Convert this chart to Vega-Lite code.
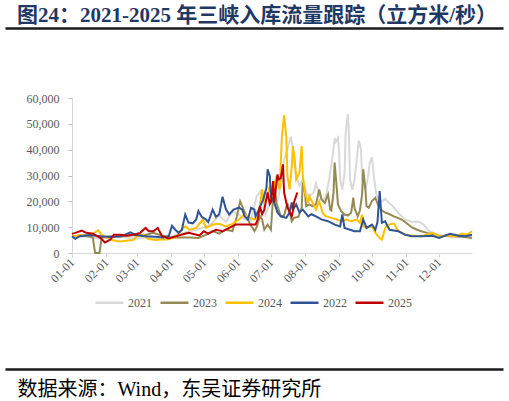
{
  "$schema": "https://vega.github.io/schema/vega-lite/v6.json",
  "padding": {"left": 5, "right": 5, "top": 5, "bottom": 0},
  "background": "white",
  "title": {
    "text": "图24：2021-2025 年三峡入库流量跟踪（立方米/秒）",
    "anchor": "start",
    "dx": 12,
    "offset": 2,
    "font": "Liberation Serif, Noto Sans CJK SC",
    "fontSize": 21,
    "fontWeight": "bold",
    "color": "#1f3864"
  },
  "spacing": 59,
  "resolve": {"legend": {"color": "independent"}},
  "vconcat": [
    {
      "width": 400,
      "height": 5,
      "data": {"values": [{"v": 0}, {"v": 1}]},
      "mark": {"type": "rule", "opacity": 0},
      "encoding": {
        "x": {
          "field": "v",
          "type": "quantitative",
          "scale": {"domain": [0, 1], "range": [-67, 431]},
          "axis": {"orient": "top", "domainColor": "#1a1a1a", "domainWidth": 2.5, "ticks": false, "labels": false, "grid": false, "title": null}
        }
      }
    },
    {
      "width": 400,
      "height": 155,
      "data": {
        "values": [
          {"d": "2021-01-01", "s": "2021", "v": 6000},
          {"d": "2021-01-08", "s": "2021", "v": 6500},
          {"d": "2021-01-17", "s": "2021", "v": 6200},
          {"d": "2021-01-27", "s": "2021", "v": 5500},
          {"d": "2021-02-05", "s": "2021", "v": 6000},
          {"d": "2021-02-14", "s": "2021", "v": 6500},
          {"d": "2021-02-23", "s": "2021", "v": 5800},
          {"d": "2021-03-01", "s": "2021", "v": 5500},
          {"d": "2021-03-09", "s": "2021", "v": 6000},
          {"d": "2021-03-18", "s": "2021", "v": 5500},
          {"d": "2021-03-27", "s": "2021", "v": 6000},
          {"d": "2021-04-02", "s": "2021", "v": 6500},
          {"d": "2021-04-10", "s": "2021", "v": 7500},
          {"d": "2021-04-19", "s": "2021", "v": 8500},
          {"d": "2021-04-28", "s": "2021", "v": 9500},
          {"d": "2021-05-07", "s": "2021", "v": 11000},
          {"d": "2021-05-15", "s": "2021", "v": 14500},
          {"d": "2021-05-21", "s": "2021", "v": 12000},
          {"d": "2021-05-27", "s": "2021", "v": 16000},
          {"d": "2021-06-02", "s": "2021", "v": 15000},
          {"d": "2021-06-07", "s": "2021", "v": 13000},
          {"d": "2021-06-13", "s": "2021", "v": 12500},
          {"d": "2021-06-18", "s": "2021", "v": 22000},
          {"d": "2021-06-22", "s": "2021", "v": 24000},
          {"d": "2021-06-26", "s": "2021", "v": 15000},
          {"d": "2021-06-29", "s": "2021", "v": 18000},
          {"d": "2021-07-03", "s": "2021", "v": 26000},
          {"d": "2021-07-07", "s": "2021", "v": 20000},
          {"d": "2021-07-10", "s": "2021", "v": 26000},
          {"d": "2021-07-13", "s": "2021", "v": 36000},
          {"d": "2021-07-16", "s": "2021", "v": 40000},
          {"d": "2021-07-19", "s": "2021", "v": 45000},
          {"d": "2021-07-21", "s": "2021", "v": 41000},
          {"d": "2021-07-22", "s": "2021", "v": 35000},
          {"d": "2021-07-24", "s": "2021", "v": 30000},
          {"d": "2021-07-27", "s": "2021", "v": 26000},
          {"d": "2021-07-30", "s": "2021", "v": 28500},
          {"d": "2021-08-02", "s": "2021", "v": 23500},
          {"d": "2021-08-05", "s": "2021", "v": 22000},
          {"d": "2021-08-09", "s": "2021", "v": 23500},
          {"d": "2021-08-11", "s": "2021", "v": 27000},
          {"d": "2021-08-14", "s": "2021", "v": 22500},
          {"d": "2021-08-18", "s": "2021", "v": 20500},
          {"d": "2021-08-20", "s": "2021", "v": 22000},
          {"d": "2021-08-23", "s": "2021", "v": 28500},
          {"d": "2021-08-26", "s": "2021", "v": 37000},
          {"d": "2021-08-28", "s": "2021", "v": 44500},
          {"d": "2021-08-29", "s": "2021", "v": 43000},
          {"d": "2021-08-31", "s": "2021", "v": 44500},
          {"d": "2021-09-01", "s": "2021", "v": 40000},
          {"d": "2021-09-02", "s": "2021", "v": 28500},
          {"d": "2021-09-04", "s": "2021", "v": 24500},
          {"d": "2021-09-06", "s": "2021", "v": 31000},
          {"d": "2021-09-07", "s": "2021", "v": 46500},
          {"d": "2021-09-09", "s": "2021", "v": 53800},
          {"d": "2021-09-10", "s": "2021", "v": 46000},
          {"d": "2021-09-11", "s": "2021", "v": 28500},
          {"d": "2021-09-13", "s": "2021", "v": 24500},
          {"d": "2021-09-15", "s": "2021", "v": 28000},
          {"d": "2021-09-17", "s": "2021", "v": 36000},
          {"d": "2021-09-19", "s": "2021", "v": 43500},
          {"d": "2021-09-21", "s": "2021", "v": 40000},
          {"d": "2021-09-22", "s": "2021", "v": 28500},
          {"d": "2021-09-25", "s": "2021", "v": 24500},
          {"d": "2021-09-27", "s": "2021", "v": 28500},
          {"d": "2021-09-29", "s": "2021", "v": 35000},
          {"d": "2021-10-01", "s": "2021", "v": 37000},
          {"d": "2021-10-03", "s": "2021", "v": 28500},
          {"d": "2021-10-05", "s": "2021", "v": 22500},
          {"d": "2021-10-07", "s": "2021", "v": 20500},
          {"d": "2021-10-10", "s": "2021", "v": 20000},
          {"d": "2021-10-13", "s": "2021", "v": 21000},
          {"d": "2021-10-16", "s": "2021", "v": 19500},
          {"d": "2021-10-19", "s": "2021", "v": 18500},
          {"d": "2021-10-22", "s": "2021", "v": 17000},
          {"d": "2021-10-25", "s": "2021", "v": 15500},
          {"d": "2021-10-31", "s": "2021", "v": 13000},
          {"d": "2021-11-06", "s": "2021", "v": 12000},
          {"d": "2021-11-12", "s": "2021", "v": 12200},
          {"d": "2021-11-17", "s": "2021", "v": 11000},
          {"d": "2021-11-22", "s": "2021", "v": 8500},
          {"d": "2021-11-27", "s": "2021", "v": 7500},
          {"d": "2021-12-04", "s": "2021", "v": 6800},
          {"d": "2021-12-13", "s": "2021", "v": 6300},
          {"d": "2021-12-22", "s": "2021", "v": 6500},
          {"d": "2021-12-31", "s": "2021", "v": 6500},

          {"d": "2021-01-01", "s": "2023", "v": 6500},
          {"d": "2021-01-08", "s": "2023", "v": 6800},
          {"d": "2021-01-16", "s": "2023", "v": 6500},
          {"d": "2021-01-20", "s": "2023", "v": 6000},
          {"d": "2021-01-22", "s": "2023", "v": 0},
          {"d": "2021-01-26", "s": "2023", "v": 0},
          {"d": "2021-01-28", "s": "2023", "v": 6000},
          {"d": "2021-02-05", "s": "2023", "v": 6500},
          {"d": "2021-02-14", "s": "2023", "v": 6300},
          {"d": "2021-02-23", "s": "2023", "v": 7000},
          {"d": "2021-03-01", "s": "2023", "v": 6800},
          {"d": "2021-03-09", "s": "2023", "v": 7000},
          {"d": "2021-03-16", "s": "2023", "v": 7800},
          {"d": "2021-03-22", "s": "2023", "v": 7000},
          {"d": "2021-04-01", "s": "2023", "v": 6000},
          {"d": "2021-04-10", "s": "2023", "v": 6000},
          {"d": "2021-04-19", "s": "2023", "v": 6000},
          {"d": "2021-04-26", "s": "2023", "v": 5800},
          {"d": "2021-05-03", "s": "2023", "v": 7000},
          {"d": "2021-05-09", "s": "2023", "v": 8500},
          {"d": "2021-05-15", "s": "2023", "v": 7500},
          {"d": "2021-05-21", "s": "2023", "v": 9000},
          {"d": "2021-05-27", "s": "2023", "v": 8500},
          {"d": "2021-05-31", "s": "2023", "v": 14000},
          {"d": "2021-06-03", "s": "2023", "v": 20000},
          {"d": "2021-06-06", "s": "2023", "v": 17000},
          {"d": "2021-06-10", "s": "2023", "v": 13000},
          {"d": "2021-06-13", "s": "2023", "v": 10500},
          {"d": "2021-06-16", "s": "2023", "v": 8500},
          {"d": "2021-06-18", "s": "2023", "v": 10000},
          {"d": "2021-06-21", "s": "2023", "v": 14200},
          {"d": "2021-06-23", "s": "2023", "v": 13000},
          {"d": "2021-06-25", "s": "2023", "v": 9000},
          {"d": "2021-06-28", "s": "2023", "v": 11000},
          {"d": "2021-07-01", "s": "2023", "v": 9000},
          {"d": "2021-07-04", "s": "2023", "v": 27800},
          {"d": "2021-07-06", "s": "2023", "v": 19400},
          {"d": "2021-07-08", "s": "2023", "v": 16800},
          {"d": "2021-07-10", "s": "2023", "v": 14200},
          {"d": "2021-07-13", "s": "2023", "v": 14500},
          {"d": "2021-07-16", "s": "2023", "v": 19400},
          {"d": "2021-07-20", "s": "2023", "v": 12300},
          {"d": "2021-07-22", "s": "2023", "v": 13600},
          {"d": "2021-07-26", "s": "2023", "v": 14000},
          {"d": "2021-07-29", "s": "2023", "v": 17500},
          {"d": "2021-07-30", "s": "2023", "v": 27200},
          {"d": "2021-08-01", "s": "2023", "v": 23300},
          {"d": "2021-08-02", "s": "2023", "v": 18100},
          {"d": "2021-08-05", "s": "2023", "v": 18800},
          {"d": "2021-08-08", "s": "2023", "v": 18100},
          {"d": "2021-08-11", "s": "2023", "v": 18800},
          {"d": "2021-08-14", "s": "2023", "v": 24600},
          {"d": "2021-08-16", "s": "2023", "v": 20700},
          {"d": "2021-08-19", "s": "2023", "v": 19400},
          {"d": "2021-08-22", "s": "2023", "v": 22700},
          {"d": "2021-08-24", "s": "2023", "v": 16800},
          {"d": "2021-08-25", "s": "2023", "v": 16500},
          {"d": "2021-08-27", "s": "2023", "v": 23300},
          {"d": "2021-08-28", "s": "2023", "v": 35000},
          {"d": "2021-08-30", "s": "2023", "v": 24600},
          {"d": "2021-08-31", "s": "2023", "v": 18800},
          {"d": "2021-09-03", "s": "2023", "v": 16200},
          {"d": "2021-09-06", "s": "2023", "v": 14900},
          {"d": "2021-09-09", "s": "2023", "v": 14500},
          {"d": "2021-09-12", "s": "2023", "v": 15600},
          {"d": "2021-09-14", "s": "2023", "v": 21400},
          {"d": "2021-09-15", "s": "2023", "v": 17500},
          {"d": "2021-09-18", "s": "2023", "v": 14200},
          {"d": "2021-09-20", "s": "2023", "v": 16500},
          {"d": "2021-09-22", "s": "2023", "v": 22700},
          {"d": "2021-09-23", "s": "2023", "v": 32400},
          {"d": "2021-09-25", "s": "2023", "v": 24600},
          {"d": "2021-09-26", "s": "2023", "v": 18100},
          {"d": "2021-09-28", "s": "2023", "v": 17500},
          {"d": "2021-10-01", "s": "2023", "v": 20100},
          {"d": "2021-10-04", "s": "2023", "v": 21400},
          {"d": "2021-10-07", "s": "2023", "v": 18100},
          {"d": "2021-10-10", "s": "2023", "v": 16500},
          {"d": "2021-10-13", "s": "2023", "v": 15600},
          {"d": "2021-10-16", "s": "2023", "v": 15200},
          {"d": "2021-10-21", "s": "2023", "v": 14200},
          {"d": "2021-10-25", "s": "2023", "v": 13500},
          {"d": "2021-10-28", "s": "2023", "v": 12950},
          {"d": "2021-10-31", "s": "2023", "v": 12000},
          {"d": "2021-11-03", "s": "2023", "v": 11000},
          {"d": "2021-11-06", "s": "2023", "v": 10000},
          {"d": "2021-11-11", "s": "2023", "v": 9000},
          {"d": "2021-11-15", "s": "2023", "v": 8400},
          {"d": "2021-11-20", "s": "2023", "v": 7800},
          {"d": "2021-11-25", "s": "2023", "v": 7300},
          {"d": "2021-12-01", "s": "2023", "v": 6700},
          {"d": "2021-12-13", "s": "2023", "v": 6500},
          {"d": "2021-12-22", "s": "2023", "v": 6300},
          {"d": "2021-12-31", "s": "2023", "v": 5800},

          {"d": "2021-01-01", "s": "2024", "v": 6500},
          {"d": "2021-01-08", "s": "2024", "v": 6800},
          {"d": "2021-01-16", "s": "2024", "v": 7000},
          {"d": "2021-01-22", "s": "2024", "v": 8000},
          {"d": "2021-01-25", "s": "2024", "v": 8800},
          {"d": "2021-01-28", "s": "2024", "v": 7000},
          {"d": "2021-02-01", "s": "2024", "v": 6000},
          {"d": "2021-02-08", "s": "2024", "v": 4800},
          {"d": "2021-02-14", "s": "2024", "v": 4500},
          {"d": "2021-02-21", "s": "2024", "v": 4800},
          {"d": "2021-02-26", "s": "2024", "v": 5000},
          {"d": "2021-03-01", "s": "2024", "v": 6500},
          {"d": "2021-03-07", "s": "2024", "v": 7000},
          {"d": "2021-03-11", "s": "2024", "v": 5500},
          {"d": "2021-03-18", "s": "2024", "v": 5000},
          {"d": "2021-03-24", "s": "2024", "v": 5200},
          {"d": "2021-03-29", "s": "2024", "v": 5200},
          {"d": "2021-04-02", "s": "2024", "v": 5800},
          {"d": "2021-04-06", "s": "2024", "v": 6300},
          {"d": "2021-04-11", "s": "2024", "v": 9000},
          {"d": "2021-04-14", "s": "2024", "v": 10300},
          {"d": "2021-04-18", "s": "2024", "v": 9000},
          {"d": "2021-04-24", "s": "2024", "v": 9700},
          {"d": "2021-04-30", "s": "2024", "v": 12950},
          {"d": "2021-05-03", "s": "2024", "v": 9700},
          {"d": "2021-05-09", "s": "2024", "v": 11000},
          {"d": "2021-05-15", "s": "2024", "v": 11300},
          {"d": "2021-05-21", "s": "2024", "v": 10300},
          {"d": "2021-05-27", "s": "2024", "v": 11300},
          {"d": "2021-06-02", "s": "2024", "v": 12950},
          {"d": "2021-06-07", "s": "2024", "v": 14900},
          {"d": "2021-06-11", "s": "2024", "v": 13600},
          {"d": "2021-06-16", "s": "2024", "v": 13000},
          {"d": "2021-06-18", "s": "2024", "v": 13600},
          {"d": "2021-06-20", "s": "2024", "v": 15600},
          {"d": "2021-06-23", "s": "2024", "v": 24600},
          {"d": "2021-06-25", "s": "2024", "v": 20000},
          {"d": "2021-06-27", "s": "2024", "v": 20700},
          {"d": "2021-06-30", "s": "2024", "v": 25900},
          {"d": "2021-07-02", "s": "2024", "v": 20500},
          {"d": "2021-07-06", "s": "2024", "v": 29800},
          {"d": "2021-07-09", "s": "2024", "v": 24600},
          {"d": "2021-07-11", "s": "2024", "v": 45000},
          {"d": "2021-07-13", "s": "2024", "v": 53400},
          {"d": "2021-07-15", "s": "2024", "v": 45000},
          {"d": "2021-07-16", "s": "2024", "v": 29800},
          {"d": "2021-07-18", "s": "2024", "v": 24600},
          {"d": "2021-07-20", "s": "2024", "v": 33700},
          {"d": "2021-07-21", "s": "2024", "v": 41400},
          {"d": "2021-07-23", "s": "2024", "v": 35000},
          {"d": "2021-07-24", "s": "2024", "v": 28500},
          {"d": "2021-07-27", "s": "2024", "v": 31100},
          {"d": "2021-07-29", "s": "2024", "v": 41400},
          {"d": "2021-07-30", "s": "2024", "v": 30000},
          {"d": "2021-08-01", "s": "2024", "v": 23300},
          {"d": "2021-08-04", "s": "2024", "v": 19400},
          {"d": "2021-08-05", "s": "2024", "v": 22000},
          {"d": "2021-08-08", "s": "2024", "v": 19400},
          {"d": "2021-08-11", "s": "2024", "v": 16800},
          {"d": "2021-08-14", "s": "2024", "v": 20100},
          {"d": "2021-08-17", "s": "2024", "v": 15600},
          {"d": "2021-08-20", "s": "2024", "v": 14200},
          {"d": "2021-08-25", "s": "2024", "v": 13600},
          {"d": "2021-08-30", "s": "2024", "v": 12950},
          {"d": "2021-09-03", "s": "2024", "v": 12300},
          {"d": "2021-09-08", "s": "2024", "v": 12950},
          {"d": "2021-09-12", "s": "2024", "v": 12300},
          {"d": "2021-09-17", "s": "2024", "v": 12950},
          {"d": "2021-09-20", "s": "2024", "v": 11700},
          {"d": "2021-09-22", "s": "2024", "v": 14900},
          {"d": "2021-09-23", "s": "2024", "v": 10300},
          {"d": "2021-09-27", "s": "2024", "v": 10000},
          {"d": "2021-10-01", "s": "2024", "v": 10300},
          {"d": "2021-10-04", "s": "2024", "v": 7800},
          {"d": "2021-10-08", "s": "2024", "v": 5800},
          {"d": "2021-10-10", "s": "2024", "v": 5200},
          {"d": "2021-10-13", "s": "2024", "v": 9700},
          {"d": "2021-10-16", "s": "2024", "v": 11000},
          {"d": "2021-10-21", "s": "2024", "v": 11400},
          {"d": "2021-10-24", "s": "2024", "v": 9100},
          {"d": "2021-10-26", "s": "2024", "v": 8400},
          {"d": "2021-10-31", "s": "2024", "v": 7100},
          {"d": "2021-11-06", "s": "2024", "v": 6800},
          {"d": "2021-11-15", "s": "2024", "v": 6500},
          {"d": "2021-11-25", "s": "2024", "v": 7800},
          {"d": "2021-12-01", "s": "2024", "v": 6500},
          {"d": "2021-12-08", "s": "2024", "v": 6800},
          {"d": "2021-12-16", "s": "2024", "v": 6500},
          {"d": "2021-12-22", "s": "2024", "v": 7500},
          {"d": "2021-12-27", "s": "2024", "v": 7200},
          {"d": "2021-12-31", "s": "2024", "v": 8400},

          {"d": "2021-01-01", "s": "2022", "v": 6500},
          {"d": "2021-01-04", "s": "2022", "v": 5500},
          {"d": "2021-01-08", "s": "2022", "v": 6500},
          {"d": "2021-01-17", "s": "2022", "v": 7000},
          {"d": "2021-01-27", "s": "2022", "v": 6500},
          {"d": "2021-02-05", "s": "2022", "v": 6200},
          {"d": "2021-02-14", "s": "2022", "v": 6500},
          {"d": "2021-02-18", "s": "2022", "v": 7000},
          {"d": "2021-02-23", "s": "2022", "v": 8000},
          {"d": "2021-02-28", "s": "2022", "v": 7000},
          {"d": "2021-03-09", "s": "2022", "v": 6500},
          {"d": "2021-03-18", "s": "2022", "v": 6300},
          {"d": "2021-03-25", "s": "2022", "v": 6000},
          {"d": "2021-03-30", "s": "2022", "v": 6500},
          {"d": "2021-04-02", "s": "2022", "v": 10500},
          {"d": "2021-04-05", "s": "2022", "v": 9000},
          {"d": "2021-04-08", "s": "2022", "v": 7800},
          {"d": "2021-04-11", "s": "2022", "v": 9000},
          {"d": "2021-04-14", "s": "2022", "v": 14900},
          {"d": "2021-04-17", "s": "2022", "v": 11800},
          {"d": "2021-04-21", "s": "2022", "v": 11500},
          {"d": "2021-04-24", "s": "2022", "v": 13000},
          {"d": "2021-04-26", "s": "2022", "v": 16200},
          {"d": "2021-04-29", "s": "2022", "v": 14000},
          {"d": "2021-05-03", "s": "2022", "v": 12950},
          {"d": "2021-05-05", "s": "2022", "v": 12000},
          {"d": "2021-05-09", "s": "2022", "v": 16800},
          {"d": "2021-05-12", "s": "2022", "v": 14000},
          {"d": "2021-05-15", "s": "2022", "v": 15000},
          {"d": "2021-05-18", "s": "2022", "v": 21800},
          {"d": "2021-05-21", "s": "2022", "v": 17000},
          {"d": "2021-05-24", "s": "2022", "v": 14900},
          {"d": "2021-05-28", "s": "2022", "v": 16800},
          {"d": "2021-06-02", "s": "2022", "v": 17600},
          {"d": "2021-06-05", "s": "2022", "v": 16800},
          {"d": "2021-06-07", "s": "2022", "v": 14200},
          {"d": "2021-06-10", "s": "2022", "v": 12950},
          {"d": "2021-06-13", "s": "2022", "v": 17500},
          {"d": "2021-06-16", "s": "2022", "v": 16800},
          {"d": "2021-06-17", "s": "2022", "v": 14200},
          {"d": "2021-06-20", "s": "2022", "v": 16800},
          {"d": "2021-06-24", "s": "2022", "v": 20700},
          {"d": "2021-06-27", "s": "2022", "v": 25300},
          {"d": "2021-06-28", "s": "2022", "v": 32400},
          {"d": "2021-06-30", "s": "2022", "v": 29800},
          {"d": "2021-07-01", "s": "2022", "v": 22000},
          {"d": "2021-07-04", "s": "2022", "v": 19600},
          {"d": "2021-07-07", "s": "2022", "v": 15700},
          {"d": "2021-07-10", "s": "2022", "v": 14200},
          {"d": "2021-07-15", "s": "2022", "v": 13600},
          {"d": "2021-07-18", "s": "2022", "v": 15700},
          {"d": "2021-07-20", "s": "2022", "v": 19600},
          {"d": "2021-07-21", "s": "2022", "v": 16800},
          {"d": "2021-07-24", "s": "2022", "v": 18800},
          {"d": "2021-07-27", "s": "2022", "v": 15700},
          {"d": "2021-07-30", "s": "2022", "v": 16800},
          {"d": "2021-08-04", "s": "2022", "v": 14200},
          {"d": "2021-08-07", "s": "2022", "v": 15000},
          {"d": "2021-08-11", "s": "2022", "v": 14200},
          {"d": "2021-08-16", "s": "2022", "v": 13000},
          {"d": "2021-08-22", "s": "2022", "v": 12300},
          {"d": "2021-08-28", "s": "2022", "v": 11000},
          {"d": "2021-09-02", "s": "2022", "v": 10300},
          {"d": "2021-09-04", "s": "2022", "v": 14900},
          {"d": "2021-09-06", "s": "2022", "v": 9700},
          {"d": "2021-09-11", "s": "2022", "v": 9000},
          {"d": "2021-09-15", "s": "2022", "v": 8400},
          {"d": "2021-09-20", "s": "2022", "v": 8400},
          {"d": "2021-09-23", "s": "2022", "v": 13000},
          {"d": "2021-09-26", "s": "2022", "v": 9700},
          {"d": "2021-10-01", "s": "2022", "v": 11000},
          {"d": "2021-10-04", "s": "2022", "v": 9000},
          {"d": "2021-10-06", "s": "2022", "v": 12000},
          {"d": "2021-10-08", "s": "2022", "v": 24000},
          {"d": "2021-10-10", "s": "2022", "v": 11700},
          {"d": "2021-10-13", "s": "2022", "v": 12300},
          {"d": "2021-10-15", "s": "2022", "v": 10500},
          {"d": "2021-10-17", "s": "2022", "v": 9000},
          {"d": "2021-10-25", "s": "2022", "v": 8400},
          {"d": "2021-10-31", "s": "2022", "v": 7100},
          {"d": "2021-11-06", "s": "2022", "v": 6500},
          {"d": "2021-11-15", "s": "2022", "v": 6500},
          {"d": "2021-11-25", "s": "2022", "v": 6700},
          {"d": "2021-12-01", "s": "2022", "v": 5800},
          {"d": "2021-12-11", "s": "2022", "v": 7400},
          {"d": "2021-12-19", "s": "2022", "v": 6700},
          {"d": "2021-12-25", "s": "2022", "v": 6500},
          {"d": "2021-12-31", "s": "2022", "v": 7100},

          {"d": "2021-01-01", "s": "2025", "v": 7400},
          {"d": "2021-01-04", "s": "2025", "v": 7800},
          {"d": "2021-01-10", "s": "2025", "v": 8700},
          {"d": "2021-01-14", "s": "2025", "v": 7800},
          {"d": "2021-01-20", "s": "2025", "v": 7500},
          {"d": "2021-01-27", "s": "2025", "v": 5800},
          {"d": "2021-01-31", "s": "2025", "v": 4100},
          {"d": "2021-02-05", "s": "2025", "v": 5200},
          {"d": "2021-02-08", "s": "2025", "v": 7100},
          {"d": "2021-02-14", "s": "2025", "v": 7100},
          {"d": "2021-02-20", "s": "2025", "v": 6700},
          {"d": "2021-02-26", "s": "2025", "v": 7100},
          {"d": "2021-03-04", "s": "2025", "v": 7800},
          {"d": "2021-03-09", "s": "2025", "v": 9700},
          {"d": "2021-03-12", "s": "2025", "v": 8400},
          {"d": "2021-03-16", "s": "2025", "v": 8400},
          {"d": "2021-03-20", "s": "2025", "v": 9700},
          {"d": "2021-03-24", "s": "2025", "v": 6500},
          {"d": "2021-03-30", "s": "2025", "v": 5600},
          {"d": "2021-04-08", "s": "2025", "v": 6800},
          {"d": "2021-04-17", "s": "2025", "v": 7800},
          {"d": "2021-04-27", "s": "2025", "v": 6800},
          {"d": "2021-05-01", "s": "2025", "v": 8400},
          {"d": "2021-05-05", "s": "2025", "v": 7500},
          {"d": "2021-05-12", "s": "2025", "v": 9000},
          {"d": "2021-05-18", "s": "2025", "v": 8400},
          {"d": "2021-05-24", "s": "2025", "v": 9700},
          {"d": "2021-05-30", "s": "2025", "v": 11000},
          {"d": "2021-06-07", "s": "2025", "v": 11000},
          {"d": "2021-06-17", "s": "2025", "v": 11000},
          {"d": "2021-06-19", "s": "2025", "v": 12950},
          {"d": "2021-06-21", "s": "2025", "v": 18100},
          {"d": "2021-06-23", "s": "2025", "v": 15000},
          {"d": "2021-06-25", "s": "2025", "v": 16800},
          {"d": "2021-06-28", "s": "2025", "v": 23400},
          {"d": "2021-06-30", "s": "2025", "v": 19000},
          {"d": "2021-07-01", "s": "2025", "v": 19600},
          {"d": "2021-07-03", "s": "2025", "v": 27800},
          {"d": "2021-07-04", "s": "2025", "v": 19600},
          {"d": "2021-07-07", "s": "2025", "v": 30400},
          {"d": "2021-07-08", "s": "2025", "v": 28500},
          {"d": "2021-07-10", "s": "2025", "v": 29000},
          {"d": "2021-07-12", "s": "2025", "v": 34300},
          {"d": "2021-07-13", "s": "2025", "v": 23400},
          {"d": "2021-07-16", "s": "2025", "v": 17600},
          {"d": "2021-07-20", "s": "2025", "v": 14200},
          {"d": "2021-07-21", "s": "2025", "v": 16200},
          {"d": "2021-07-22", "s": "2025", "v": 19600},
          {"d": "2021-07-25", "s": "2025", "v": 23400}
        ]
      },
      "mark": {"type": "line", "strokeWidth": 2},
      "encoding": {
        "x": {
          "field": "d",
          "type": "temporal",
          "scale": {
            "type": "utc",
            "domain": [
              {"year": 2021, "month": 1, "date": 1, "utc": true},
              {"year": 2021, "month": 12, "date": 31, "utc": true}
            ]
          },
          "axis": {
            "title": null,
            "format": "%m-%d",
            "values": [
              {"year": 2021, "month": 1, "date": 1, "utc": true},
              {"year": 2021, "month": 2, "date": 1, "utc": true},
              {"year": 2021, "month": 3, "date": 1, "utc": true},
              {"year": 2021, "month": 4, "date": 1, "utc": true},
              {"year": 2021, "month": 5, "date": 1, "utc": true},
              {"year": 2021, "month": 6, "date": 1, "utc": true},
              {"year": 2021, "month": 7, "date": 1, "utc": true},
              {"year": 2021, "month": 8, "date": 1, "utc": true},
              {"year": 2021, "month": 9, "date": 1, "utc": true},
              {"year": 2021, "month": 10, "date": 1, "utc": true},
              {"year": 2021, "month": 11, "date": 1, "utc": true},
              {"year": 2021, "month": 12, "date": 1, "utc": true}
            ],
            "grid": false,
            "labelAngle": -45,
            "labelAlign": "right",
            "labelBaseline": "middle",
            "labelPadding": 3,
            "labelFont": "Liberation Serif",
            "labelFontSize": 12,
            "labelColor": "#595959",
            "labelOverlap": false,
            "domainColor": "#d9d9d9",
            "tickColor": "#d9d9d9",
            "tickSize": 4
          }
        },
        "y": {
          "field": "v",
          "type": "quantitative",
          "scale": {"domain": [0, 60000], "nice": false},
          "axis": {
            "title": null,
            "values": [0, 10000, 20000, 30000, 40000, 50000, 60000],
            "format": ",d",
            "grid": false,
            "labelFont": "Liberation Serif",
            "labelFontSize": 12,
            "labelColor": "#595959",
            "labelPadding": 9,
            "domainColor": "#d9d9d9",
            "tickColor": "#bfbfbf",
            "tickSize": 4
          }
        },
        "color": {
          "field": "s",
          "type": "nominal",
          "scale": {
            "domain": ["2021", "2023", "2024", "2022", "2025"],
            "range": ["#d9d9d9", "#948a54", "#ffc000", "#2f5597", "#c00000"]
          },
          "legend": {
            "orient": "none",
            "legendX": 22,
            "legendY": 189,
            "direction": "horizontal",
            "title": null,
            "symbolType": "stroke",
            "symbolSize": 784,
            "symbolStrokeWidth": 2.5,
            "labelFont": "Liberation Serif",
            "labelFontSize": 12,
            "labelColor": "#595959",
            "labelOffset": 3,
            "columnPadding": 3
          }
        }
      }
    },
    {
      "width": 400,
      "height": 1,
      "data": {"values": [{"v": 0}, {"v": 1}]},
      "mark": {"type": "rule", "opacity": 0},
      "encoding": {
        "x": {
          "field": "v",
          "type": "quantitative",
          "scale": {"domain": [0, 1], "range": [-67, 431]},
          "axis": {
            "orient": "bottom",
            "domainColor": "#1a1a1a",
            "domainWidth": 2.5,
            "ticks": false,
            "labels": false,
            "grid": false,
            "title": "数据来源：Wind，东吴证券研究所",
            "titleX": -55,
            "titleAlign": "left",
            "titleBaseline": "top",
            "titlePadding": 10,
            "titleFont": "Liberation Serif, Noto Sans CJK SC",
            "titleFontSize": 20,
            "titleFontWeight": "normal",
            "titleColor": "#000000"
          }
        }
      }
    }
  ],
  "config": {"view": {"stroke": null}}
}
